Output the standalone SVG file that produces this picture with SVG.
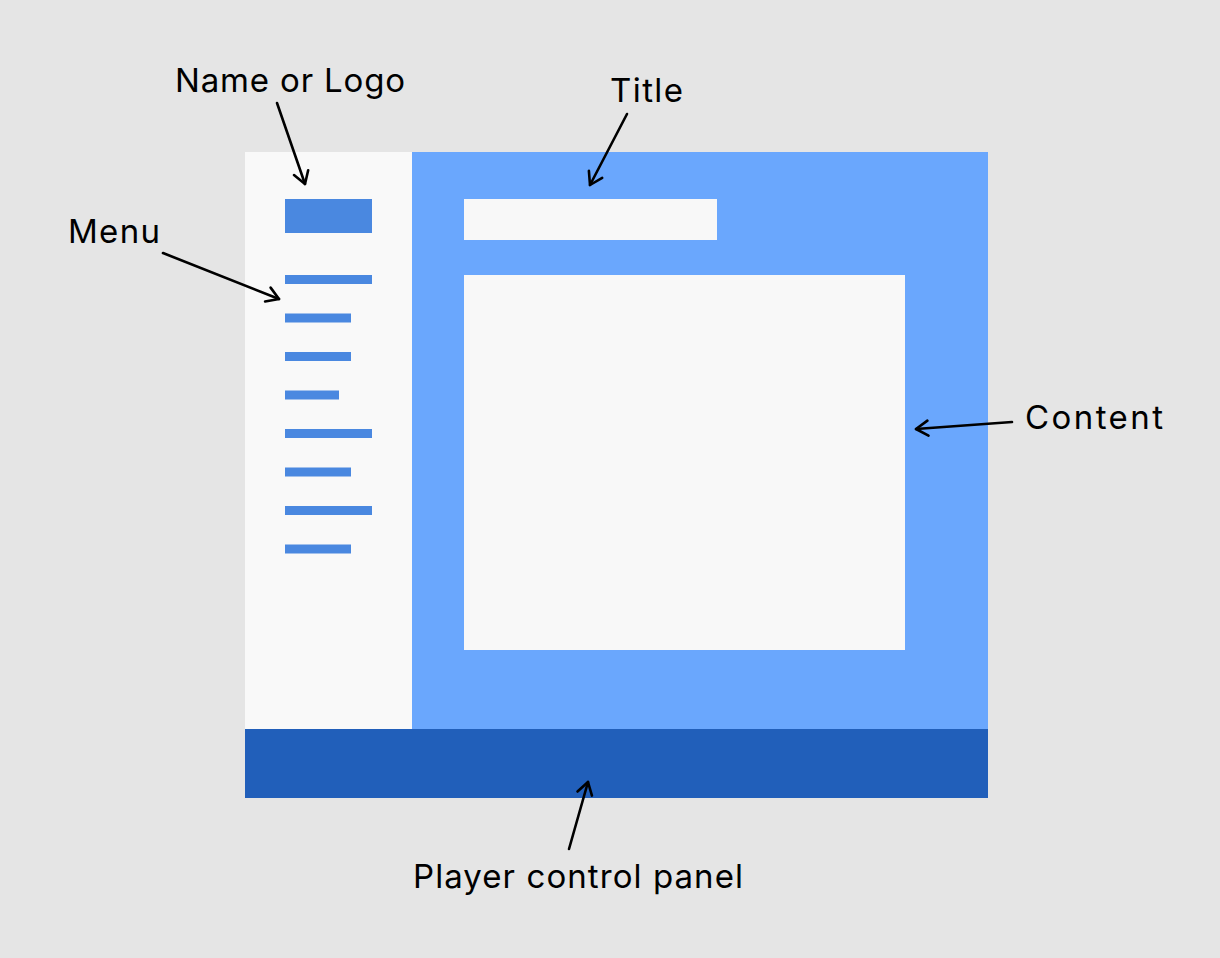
<svg xmlns="http://www.w3.org/2000/svg" width="1220" height="958" viewBox="0 0 1220 958">
<style>
.lbl{font-family:Inter,"Noto Sans","Liberation Sans",sans-serif;font-size:33px;fill:#000}
.bar{fill:#4A88E0}
.conn{stroke:#000;stroke-width:2.6;fill:none;stroke-linecap:round}
</style>
<defs>
<marker id="ah" markerUnits="userSpaceOnUse" markerWidth="30" markerHeight="30" refX="15" refY="15" orient="auto" viewBox="0 0 30 30">
<path d="M3,7.5 L15,15 L3,22.5" fill="none" stroke="#000" stroke-width="2.6" stroke-linecap="round" stroke-linejoin="round"/>
</marker>
</defs>
<rect width="1220" height="958" fill="#E5E5E5"/>
<g id="sidebar">
<rect x="245" y="152" width="167" height="577" fill="#F9F9F9"/>
</g>
<g id="main">
<rect x="412" y="152" width="576" height="577" fill="#6AA7FD"/>
</g>
<g id="logo"><rect x="285" y="199" width="87" height="34" fill="#4A88E0"/></g>
<g id="menu">
<rect class="bar" x="285" y="275" width="87" height="9"/>
<rect class="bar" x="285" y="313.5" width="66" height="9"/>
<rect class="bar" x="285" y="352" width="66" height="9"/>
<rect class="bar" x="285" y="390.5" width="54" height="9"/>
<rect class="bar" x="285" y="429" width="87" height="9"/>
<rect class="bar" x="285" y="467.5" width="66" height="9"/>
<rect class="bar" x="285" y="506" width="87" height="9"/>
<rect class="bar" x="285" y="544.5" width="66" height="9"/>
</g>
<g id="title-box"><rect x="464" y="199" width="253" height="41" fill="#F8F8F8"/></g>
<g id="content-box"><rect x="464" y="275" width="441" height="375" fill="#F8F8F8"/></g>
<g id="control-panel"><rect x="245" y="729" width="743" height="69" fill="#215FBA"/></g>
<g id="connectors">
<path class="conn" d="M277,103 L305,184" marker-end="url(#ah)"/>
<path class="conn" d="M163,253 L279,299" marker-end="url(#ah)"/>
<path class="conn" d="M627,114 L590,185" marker-end="url(#ah)"/>
<path class="conn" d="M1012,422 L916,429" marker-end="url(#ah)"/>
<path class="conn" d="M569,849 L588,782" marker-end="url(#ah)"/>
</g>
<g id="labels">
<text class="lbl" x="175" y="92" textLength="230" lengthAdjust="spacing">Name or Logo</text>
<text class="lbl" x="68" y="243" textLength="92" lengthAdjust="spacing">Menu</text>
<text class="lbl" x="610" y="102" textLength="73" lengthAdjust="spacing">Title</text>
<text class="lbl" x="1025" y="429" textLength="138" lengthAdjust="spacing">Content</text>
<text class="lbl" x="413" y="888" textLength="330" lengthAdjust="spacing">Player control panel</text>
</g>
</svg>
